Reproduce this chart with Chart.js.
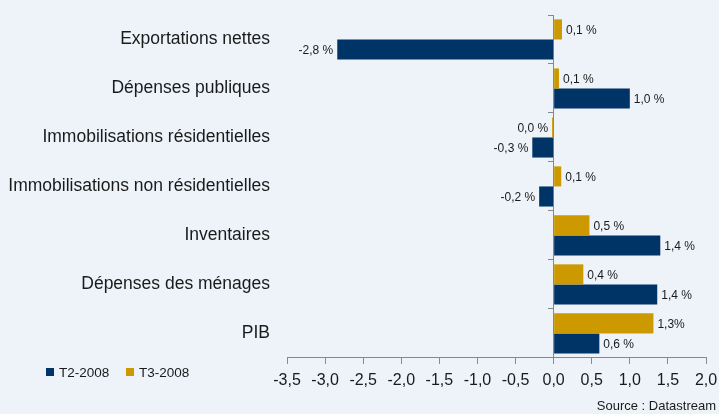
<!DOCTYPE html>
<html>
<head>
<meta charset="utf-8">
<script src="https://cdn.jsdelivr.net/npm/chart.js@4/dist/chart.umd.min.js"></script>
<style>
    body { margin: 0; background: #eef3fa; }
    #wrap { width: 719px; height: 414px; position: relative; }
</style>
</head>
<body>
<div id="wrap"><canvas id="myChart"></canvas></div>
<script>
const categories = ['Exportations nettes', 'Dépenses publiques', 'Immobilisations résidentielles',
    'Immobilisations non résidentielles', 'Inventaires', 'Dépenses des ménages', 'PIB'];
const t2Values = [-2.84, 1.0, -0.28, -0.19, 1.4, 1.36, 0.6];
const t3Values = [0.11, 0.07, -0.02, 0.1, 0.47, 0.39, 1.31];
const t2Labels = ['-2,8 %', '1,0 %', '-0,3 %', '-0,2 %', '1,4 %', '1,4 %', '0,6 %'];
const t3Labels = ['0,1 %', '0,1 %', '0,0 %', '0,1 %', '0,5 %', '0,4 %', '1,3%'];
const xMin = -3.5, xMax = 2.0, xStep = 0.5;

const FONT = "'Liberation Sans', Arial, sans-serif";
const NAVY = '#003366';
const GOLD = '#cc9900';
const TEXT = '#1a1a1a';

// value labels at the end of each bar
const barLabels = {
    id: 'barLabels',
    afterDatasetsDraw(chart) {
        const ctx = chart.ctx;
        ctx.save();
        ctx.font = '12px ' + FONT;
        ctx.fillStyle = TEXT;
        ctx.textBaseline = 'middle';
        chart.data.datasets.forEach((ds, i) => {
            chart.getDatasetMeta(i).data.forEach((bar, j) => {
                const v = ds.data[j];
                if (v < 0) {
                    ctx.textAlign = 'right';
                    ctx.fillText(ds.valueLabels[j], bar.x - 4, bar.y + 1);
                } else {
                    ctx.textAlign = 'left';
                    ctx.fillText(ds.valueLabels[j], bar.x + 4, bar.y + 1);
                }
            });
        });
        ctx.restore();
    }
};

// legend bottom-left, T2 first
const sideLegend = {
    id: 'sideLegend',
    afterDraw(chart) {
        const ctx = chart.ctx;
        ctx.save();
        ctx.font = '13.5px ' + FONT;
        ctx.textBaseline = 'middle';
        ctx.textAlign = 'left';
        const items = chart.data.datasets.slice().reverse();
        let x = 46;
        const y = 372;
        items.forEach(ds => {
            ctx.fillStyle = ds.backgroundColor;
            ctx.fillRect(x, y - 4, 8, 8);
            ctx.fillStyle = TEXT;
            ctx.fillText(ds.label, x + 13, y + 1);
            x += 80;
        });
        ctx.restore();
    }
};

const ctx = document.getElementById('myChart').getContext('2d');
const myChart = new Chart(ctx, {
    type: 'bar',
    data: {
        labels: categories,
        datasets: [{
            label: 'T3-2008',
            data: t3Values,
            valueLabels: t3Labels,
            backgroundColor: GOLD,
            categoryPercentage: 0.82,
            barPercentage: 1.0
        }, {
            label: 'T2-2008',
            data: t2Values,
            valueLabels: t2Labels,
            backgroundColor: NAVY,
            categoryPercentage: 0.82,
            barPercentage: 1.0
        }]
    },
    options: {
        indexAxis: 'y',
        responsive: true,
        maintainAspectRatio: false,
        animation: false,
        layout: { padding: { left: 0, right: 3, top: 15, bottom: 0 } },
        scales: {
            x: {
                min: xMin,
                max: xMax,
                ticks: {
                    stepSize: xStep,
                    padding: 7,
                    color: TEXT,
                    font: { family: FONT, size: 16 },
                    callback: v => v.toFixed(1).replace('.', ',')
                },
                grid: { drawOnChartArea: false, drawTicks: true, tickLength: 6, color: '#888' },
                border: { color: '#888' },
                afterFit: s => {
                    s.height = 32.5;
                    s.paddingLeft = 0;
                    s.paddingRight = 13;
                }
            },
            y: {
                grid: { display: false },
                border: { display: false },
                ticks: {
                    padding: 9,
                    color: TEXT,
                    font: { family: FONT, size: 17.5 }
                },
                afterFit: s => {
                    s.width = 287;
                    s.paddingTop = 0;
                    s.paddingBottom = 0;
                }
            },
            y2: {
                type: 'category',
                labels: categories,
                position: { x: 0 },
                offset: true,
                grid: { offset: true, drawOnChartArea: false, drawTicks: true, tickLength: 5, color: '#888' },
                border: { color: '#888' },
                ticks: { display: false }
            }
        },
        plugins: {
            legend: { display: false },
            tooltip: { enabled: false },
            subtitle: {
                display: true,
                text: 'Source : Datastream',
                position: 'bottom',
                align: 'end',
                color: TEXT,
                font: { family: FONT, size: 13, weight: 'normal' },
                padding: { top: 8, bottom: 0 }
            }
        }
    },
    plugins: [barLabels, sideLegend]
});
</script>
</body>
</html>
